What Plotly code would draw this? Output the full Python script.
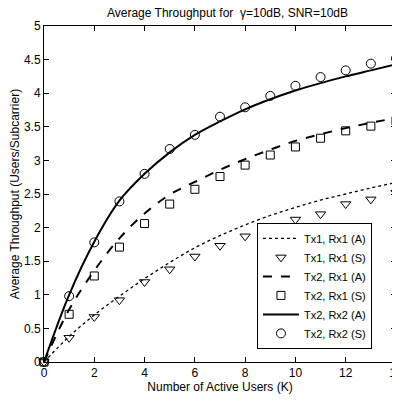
import plotly.graph_objects as go

K = list(range(15))
tx1rx1_a = [0, 0.38, 0.70, 0.98, 1.24, 1.48, 1.70, 1.88, 2.04, 2.18, 2.30, 2.41, 2.50, 2.59, 2.67]
tx1rx1_s = [0, 0.36, 0.67, 0.92, 1.19, 1.38, 1.57, 1.73, 1.87, 1.99, 2.12, 2.20, 2.35, 2.42, 2.52]
tx2rx1_a = [0, 0.78, 1.36, 1.84, 2.21, 2.49, 2.68, 2.86, 3.02, 3.16, 3.29, 3.39, 3.48, 3.56, 3.63]
tx2rx1_s = [0, 0.71, 1.28, 1.71, 2.06, 2.35, 2.57, 2.76, 2.93, 3.08, 3.20, 3.33, 3.44, 3.51, 3.59]
tx2rx2_a = [0, 1.00, 1.79, 2.40, 2.80, 3.12, 3.38, 3.58, 3.76, 3.91, 4.04, 4.15, 4.25, 4.34, 4.43]
tx2rx2_s = [0, 0.98, 1.78, 2.39, 2.80, 3.17, 3.38, 3.65, 3.79, 3.96, 4.11, 4.24, 4.34, 4.44, 4.52]

x_ticks = [0, 2, 4, 6, 8, 10, 12, 14]
y_ticks = [0, 0.5, 1, 1.5, 2, 2.5, 3, 3.5, 4, 4.5, 5]
y_tick_labels = ["0", "0.5", "1", "1.5", "2", "2.5", "3", "3.5", "4", "4.5", "5"]

fig = go.Figure()
fig.add_trace(go.Scatter(x=K, y=tx1rx1_a, mode="lines", name="Tx1, Rx1 (A)",
                         line=dict(color="black", width=1.3, dash="dot", shape="spline")))
fig.add_trace(go.Scatter(x=K, y=tx1rx1_s, mode="markers", name="Tx1, Rx1 (S)", cliponaxis=False,
                         marker=dict(symbol="triangle-down-open", size=9, color="black", line=dict(width=1))))
fig.add_trace(go.Scatter(x=K, y=tx2rx1_a, mode="lines", name="Tx2, Rx1 (A)",
                         line=dict(color="black", width=2, dash="dash", shape="spline")))
fig.add_trace(go.Scatter(x=K, y=tx2rx1_s, mode="markers", name="Tx2, Rx1 (S)", cliponaxis=False,
                         marker=dict(symbol="square-open", size=8, color="black", line=dict(width=1))))
fig.add_trace(go.Scatter(x=K, y=tx2rx2_a, mode="lines", name="Tx2, Rx2 (A)",
                         line=dict(color="black", width=2, shape="spline")))
fig.add_trace(go.Scatter(x=K, y=tx2rx2_s, mode="markers", name="Tx2, Rx2 (S)", cliponaxis=False,
                         marker=dict(symbol="circle-open", size=9, color="black", line=dict(width=1))))

axis_common = dict(showgrid=False, zeroline=False, showline=True, linecolor="black", linewidth=1,
                   mirror="ticks", ticks="inside", ticklen=5, tickcolor="black", automargin=False,
                   ticklabeloverflow="allow",
                   tickfont=dict(family="Arial", size=12, color="black"))

# page body has an 8px margin, so the figure is sized 392x395 to fill the 400x403 window
fig.update_layout(
    width=392, height=395,
    margin=dict(l=36, r=4, t=18, b=41),
    paper_bgcolor="white", plot_bgcolor="white",
    font=dict(family="Arial", size=12, color="black"),
    title=dict(text="Average Throughput for  γ=10dB, SNR=10dB", x=0.56, xanchor="center",
               y=0.999, yanchor="top", pad=dict(t=0, b=0),
               font=dict(family="Arial", size=12, color="black")),
    xaxis=dict(range=[0, 14], tickvals=x_ticks, title=dict(text="Number of Active Users (K)", standoff=2,
               font=dict(family="Arial", size=12)), **axis_common),
    yaxis=dict(range=[0, 5], tickvals=y_ticks, ticktext=y_tick_labels,
               title=dict(text="Average Throughput (Users/Subcarrier)", standoff=3,
                          font=dict(family="Arial", size=12)), **axis_common),
    legend=dict(x=0.605, y=0.039, xanchor="left", yanchor="bottom", bgcolor="white",
                bordercolor="black", borderwidth=1, font=dict(family="Arial", size=11),
                tracegroupgap=0, itemwidth=36),
    showlegend=True,
)

fig.write_html("out.html")
